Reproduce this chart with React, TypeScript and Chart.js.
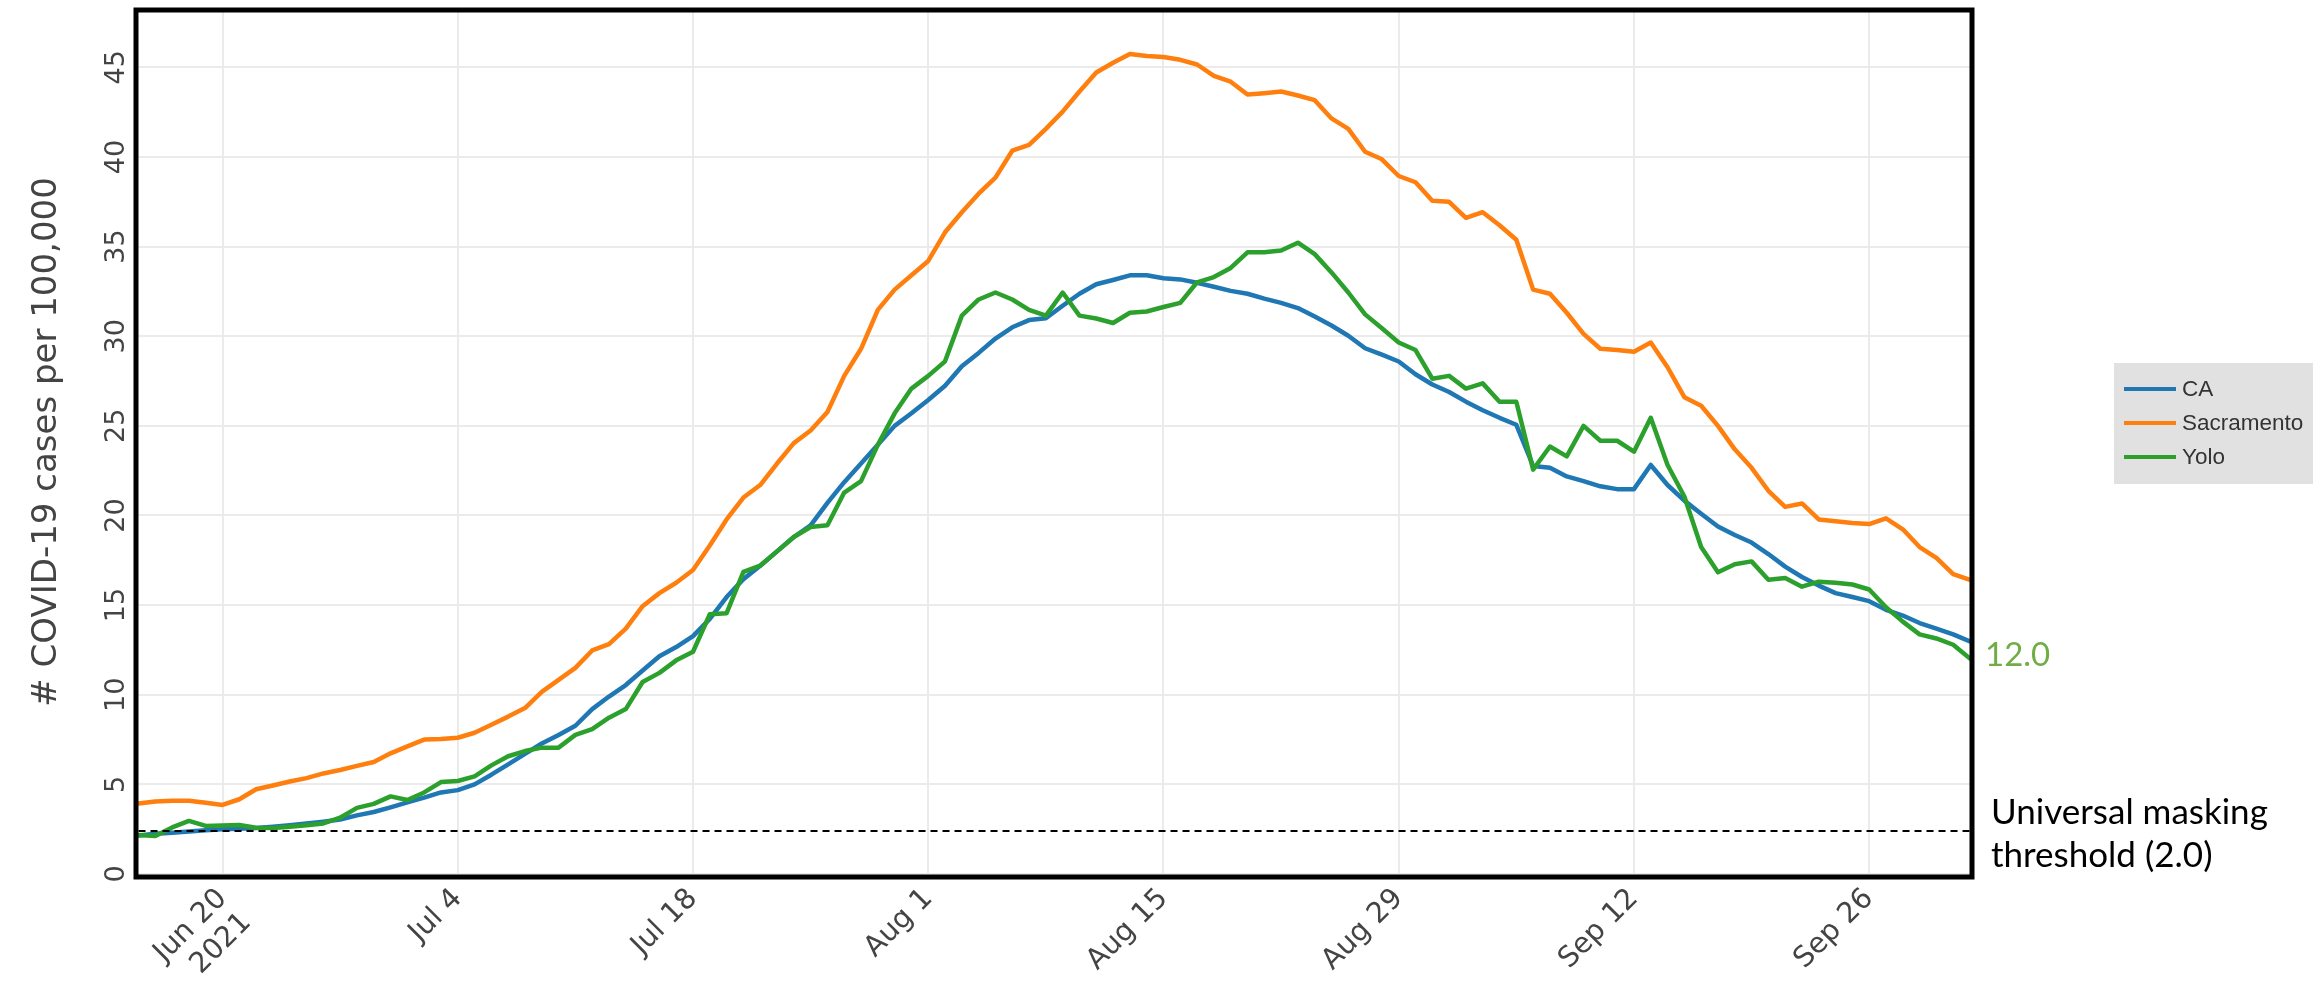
import { useEffect, useRef } from 'react';
import { Chart, registerables } from 'chart.js';

Chart.register(...registerables);

// x positions are day offsets from Jun 15, 2021 (day 0) to Oct 2, 2021 (day 109)
const xTickDays = [5, 19, 33, 47, 61, 75, 89, 103];
const xTickLabels: (string | string[])[] = [['Jun 20', '2021'], 'Jul 4', 'Jul 18', 'Aug 1', 'Aug 15', 'Aug 29', 'Sep 12', 'Sep 26'];
const yTicks = [0, 5, 10, 15, 20, 25, 30, 35, 40, 45];

const seriesNames = ['CA', 'Sacramento', 'Yolo'];
const seriesColors = ['#1f77b4', '#ff7f0e', '#2ca02c'];

const caValues = [
  2.15, 2.24, 2.30, 2.37, 2.44, 2.50, 2.53, 2.56, 2.63, 2.72,
  2.82, 2.92, 3.04, 3.27, 3.46, 3.72, 4.00, 4.26, 4.55, 4.68,
  5.00, 5.54, 6.12, 6.70, 7.28, 7.76, 8.27, 9.20, 9.90, 10.54,
  11.35, 12.15, 12.66, 13.27, 14.23, 15.45, 16.45, 17.20, 18.00, 18.80,
  19.45, 20.70, 21.86, 22.90, 23.94, 25.00, 25.70, 26.44, 27.24, 28.33,
  29.07, 29.87, 30.50, 30.90, 31.00, 31.70, 32.37, 32.90, 33.14, 33.40,
  33.40, 33.24, 33.17, 32.98, 32.76, 32.53, 32.37, 32.10, 31.86, 31.57,
  31.10, 30.60, 30.03, 29.33, 28.97, 28.59, 27.88, 27.31, 26.89, 26.35,
  25.87, 25.45, 25.06, 22.76, 22.66, 22.18, 21.92, 21.63, 21.47, 21.47,
  22.82, 21.70, 20.83, 20.10, 19.39, 18.91, 18.49, 17.85, 17.15, 16.57,
  16.09, 15.67, 15.45, 15.22, 14.74, 14.42, 14.00, 13.69, 13.37, 12.98,
];

const sacramentoValues = [
  3.93, 4.04, 4.09, 4.09, 3.97, 3.85, 4.17, 4.73, 4.94, 5.16,
  5.35, 5.61, 5.80, 6.03, 6.25, 6.73, 7.12, 7.50, 7.53, 7.60,
  7.88, 8.33, 8.78, 9.26, 10.16, 10.83, 11.50, 12.47, 12.82, 13.69,
  14.94, 15.67, 16.25, 16.96, 18.33, 19.78, 21.00, 21.70, 22.90, 24.04,
  24.74, 25.77, 27.79, 29.30, 31.47, 32.60, 33.40, 34.20, 35.80, 36.92,
  37.95, 38.85, 40.35, 40.67, 41.57, 42.53, 43.65, 44.71, 45.26, 45.74,
  45.64, 45.58, 45.42, 45.16, 44.52, 44.20, 43.49, 43.56, 43.65, 43.43,
  43.17, 42.15, 41.57, 40.29, 39.87, 38.94, 38.59, 37.56, 37.50, 36.60,
  36.92, 36.19, 35.38, 32.60, 32.37, 31.31, 30.13, 29.30, 29.23, 29.13,
  29.65, 28.27, 26.60, 26.12, 25.00, 23.69, 22.66, 21.38, 20.48, 20.67,
  19.78, 19.68, 19.58, 19.52, 19.84, 19.23, 18.24, 17.63, 16.73, 16.41,
];

const yoloValues = [
  2.18, 2.12, 2.60, 2.96, 2.68, 2.70, 2.73, 2.58, 2.56, 2.63,
  2.72, 2.82, 3.14, 3.69, 3.91, 4.33, 4.13, 4.55, 5.13, 5.19,
  5.45, 6.06, 6.57, 6.86, 7.05, 7.05, 7.76, 8.08, 8.72, 9.20,
  10.71, 11.22, 11.92, 12.40, 14.49, 14.55, 16.85, 17.20, 18.00, 18.80,
  19.36, 19.46, 21.28, 21.92, 23.94, 25.70, 27.08, 27.79, 28.60, 31.15,
  32.05, 32.44, 32.05, 31.47, 31.15, 32.44, 31.15, 30.99, 30.74, 31.31,
  31.38, 31.63, 31.86, 33.01, 33.30, 33.81, 34.68, 34.68, 34.78, 35.22,
  34.58, 33.56, 32.44, 31.22, 30.45, 29.65, 29.23, 27.63, 27.79, 27.08,
  27.37, 26.35, 26.35, 22.56, 23.85, 23.30, 25.00, 24.17, 24.17, 23.56,
  25.45, 22.82, 21.06, 18.24, 16.83, 17.28, 17.44, 16.41, 16.51, 16.03,
  16.31, 16.25, 16.15, 15.87, 14.88, 14.08, 13.37, 13.14, 12.79, 12.02,
];

// dashed reference line as drawn on the picture
const thresholdDrawnValue = 2.4;
const thresholdTextLines = ['Universal masking', 'threshold (2.0)'];
const yTitle = '# COVID-19 cases per 100,000';

const toPoints = (vals: number[]) => vals.map((v, i) => ({ x: i, y: v }));

const frameAndNotes = {
  id: 'frameAndNotes',
  afterDraw(chart: any) {
    const { ctx, chartArea, scales } = chart;
    const ys = scales.y;
    ctx.save();
    // frame
    ctx.strokeStyle = '#000';
    ctx.lineWidth = 5;
    ctx.strokeRect(chartArea.left, chartArea.top, chartArea.right + 2 - chartArea.left, chartArea.bottom + 3 - chartArea.top);

    // last Yolo value label
    const lastYolo = yoloValues[yoloValues.length - 1];
    ctx.fillStyle = '#70ad47';
    ctx.font = '33px Lato';
    ctx.textBaseline = 'middle';
    ctx.textAlign = 'left';
    ctx.fillText(lastYolo.toFixed(1), chartArea.right + 15, ys.getPixelForValue(lastYolo) - 3);

    // threshold text
    const ty = ys.getPixelForValue(thresholdDrawnValue);
    ctx.fillStyle = '#000';
    ctx.font = '35px Lato';
    ctx.textBaseline = 'alphabetic';
    thresholdTextLines.forEach((t, i) => ctx.fillText(t, chartArea.right + 21, ty - 7 + i * 43));

    // legend
    const lx = 2114, ly = 363, lw = 199, lh = 121;
    ctx.fillStyle = '#e1e1e1';
    ctx.fillRect(lx, ly, lw, lh);
    ctx.font = '22.5px "Liberation Sans", Arial';
    ctx.textBaseline = 'middle';
    seriesNames.forEach((name, i) => {
      const y = ly + 26 + i * 34;
      ctx.strokeStyle = seriesColors[i];
      ctx.lineWidth = 4;
      ctx.beginPath();
      ctx.moveTo(lx + 10, y);
      ctx.lineTo(lx + 62, y);
      ctx.stroke();
      ctx.fillStyle = '#333';
      ctx.fillText(name, lx + 68, y + 1);
    });
    ctx.restore();
  },
};

export default function App() {
  const ref = useRef<HTMLCanvasElement>(null);
  useEffect(() => {
    if (!ref.current) return;
    const family = '"DejaVu Sans", Verdana, sans-serif';
    const valueSets = [caValues, sacramentoValues, yoloValues];
    const chart = new Chart(ref.current, {
      type: 'line',
      data: {
        datasets: [
          {
            label: 'threshold',
            data: [{ x: 0, y: thresholdDrawnValue }, { x: caValues.length - 1, y: thresholdDrawnValue }],
            borderColor: '#000',
            borderWidth: 2,
            borderDash: [7, 5],
            pointRadius: 0,
            order: 0,
          },
          ...seriesNames.map((name, i) => ({
            label: name,
            data: toPoints(valueSets[i]),
            borderColor: seriesColors[i],
            borderWidth: 4.5,
            pointRadius: 0,
            tension: 0,
            borderJoinStyle: 'round' as const,
            borderCapStyle: 'round' as const,
            order: 3 - i,
          })),
        ],
      },
      options: {
        animation: false,
        responsive: false,
        devicePixelRatio: 1,
        layout: { padding: { left: 0, top: 10, right: 353, bottom: 0 } },
        plugins: { legend: { display: false }, tooltip: { enabled: false } },
        scales: {
          x: {
            type: 'linear',
            min: -0.15,
            max: 109,
            afterBuildTicks: (s: any) => { s.ticks = xTickDays.map((v) => ({ value: v })); },
            afterFit: (s: any) => { s.height = 108; s.paddingLeft = 0; s.paddingRight = 0; },
            ticks: {
              autoSkip: false,
              minRotation: 45,
              maxRotation: 45,
              padding: 8,
              color: '#444',
              font: { family, size: 28.5 },
              callback: (v: any) => {
                const idx = xTickDays.indexOf(Number(v));
                return idx >= 0 ? xTickLabels[idx] : '';
              },
            },
            grid: { color: '#ebebeb', lineWidth: 2, drawTicks: false },
            border: { display: false },
          },
          y: {
            type: 'linear',
            min: 0,
            max: 48.2,
            afterBuildTicks: (s: any) => { s.ticks = yTicks.map((v) => ({ value: v })); },
            afterFit: (s: any) => { s.width = 136; s.paddingTop = 0; s.paddingBottom = 0; },
            ticks: {
              autoSkip: false,
              minRotation: 90,
              maxRotation: 90,
              crossAlign: 'center',
              padding: 2,
              color: '#444',
              font: { family, size: 27 },
            },
            title: {
              display: true,
              text: yTitle,
              color: '#444',
              font: { family, size: 34 },
              padding: { top: 27, bottom: 0 },
            },
            grid: { color: '#ebebeb', lineWidth: 2, drawTicks: false },
            border: { display: false },
          },
        },
      },
      plugins: [frameAndNotes],
    });
    return () => chart.destroy();
  }, []);

  return (
    <div style={{ position: 'absolute', left: 0, top: 0, width: 2323, height: 982, background: '#fff' }}>
      <canvas ref={ref} width={2323} height={982} style={{ display: 'block', width: 2323, height: 982 }} />
    </div>
  );
}
